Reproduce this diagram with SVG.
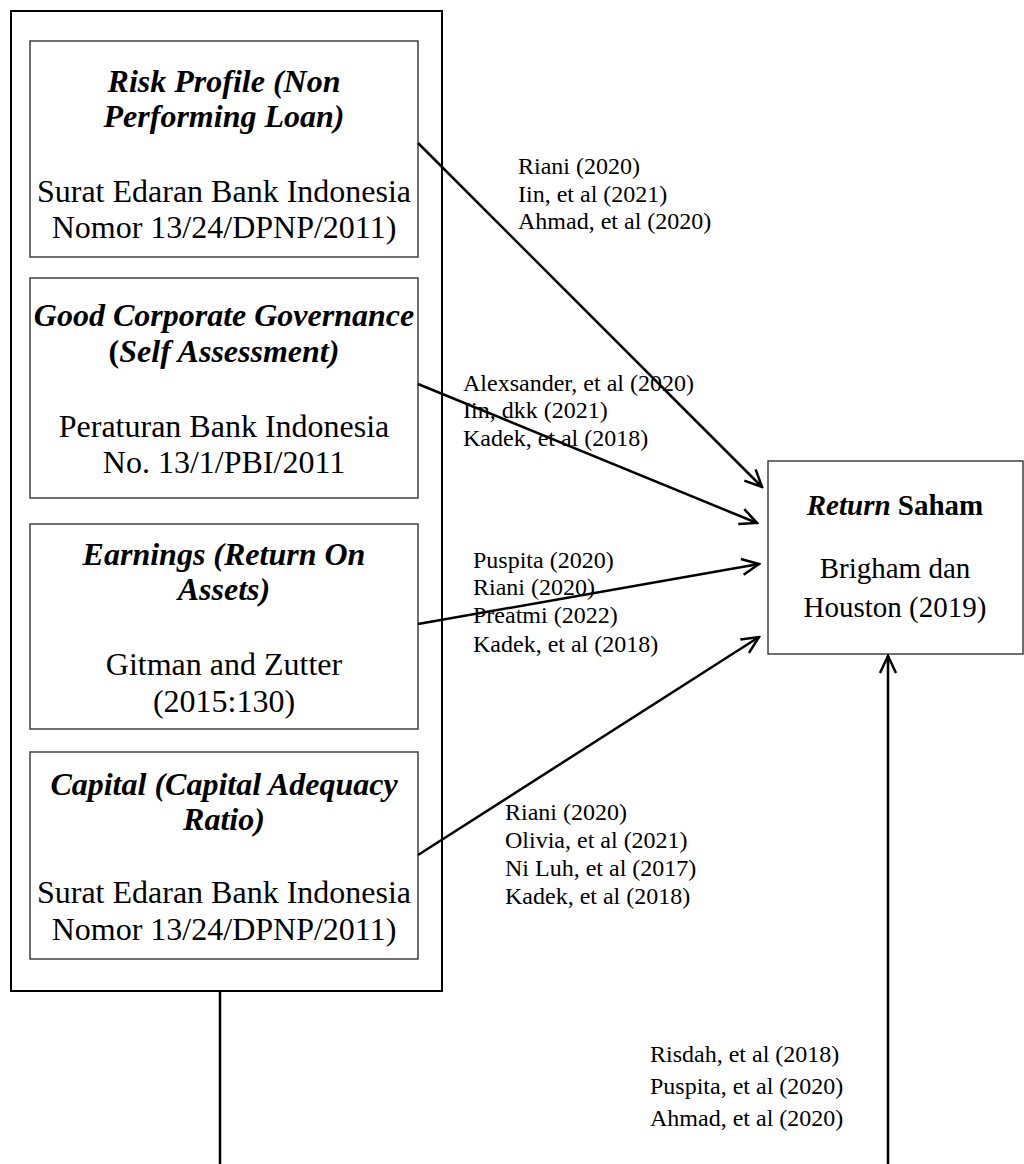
<svg xmlns="http://www.w3.org/2000/svg" width="1024" height="1164" viewBox="0 0 1024 1164">
<style>
.bx{fill:#fff;stroke:#333;stroke-width:1.4}
.outer{fill:none;stroke:#000;stroke-width:2}
.t{font-family:"Liberation Serif","Times New Roman",serif;fill:#000;text-anchor:middle}
.h{font-size:32px;font-weight:bold;font-style:italic}
.b{font-size:32px}
.r{font-size:29px}
.c{font-family:"Liberation Serif","Times New Roman",serif;font-size:24px;fill:#000}
.ln{stroke:#000;stroke-width:2.5;fill:none}
</style>
<defs>
<marker id="ah" markerUnits="userSpaceOnUse" markerWidth="22" markerHeight="22" viewBox="0 0 22 22" refX="20" refY="11" orient="auto">
<path d="M3,3 L20,11 L3,19" fill="none" stroke="#000" stroke-width="2.5"/>
</marker>
</defs>
<rect id="outer-box" x="11" y="11" width="431" height="980" class="outer"/>
<g id="risk-profile">
<rect x="30" y="41" width="388" height="216" class="bx"/>
<text class="t h" x="224" y="92">Risk Profile (Non</text>
<text class="t h" x="224" y="127">Performing Loan)</text>
<text class="t b" x="224" y="202">Surat Edaran Bank Indonesia</text>
<text class="t b" x="224" y="238">Nomor 13/24/DPNP/2011)</text>
</g>
<g id="gcg">
<rect x="30" y="278" width="388" height="220" class="bx"/>
<text class="t h" x="224" y="326">Good Corporate Governance</text>
<text class="t h" x="224" y="362"><tspan font-style="normal">(</tspan>Self Assessment)</text>
<text class="t b" x="224" y="437">Peraturan Bank Indonesia</text>
<text class="t b" x="224" y="473">No. 13/1/PBI/2011</text>
</g>
<g id="earnings">
<rect x="30" y="524" width="388" height="205" class="bx"/>
<text class="t h" x="224" y="565">Earnings (Return On</text>
<text class="t h" x="224" y="600">Assets)</text>
<text class="t b" x="224" y="675">Gitman and Zutter</text>
<text class="t b" x="224" y="712">(2015:130)</text>
</g>
<g id="capital">
<rect x="30" y="752" width="388" height="207" class="bx"/>
<text class="t h" x="224" y="795">Capital (Capital Adequacy</text>
<text class="t h" x="224" y="830">Ratio)</text>
<text class="t b" x="224" y="903">Surat Edaran Bank Indonesia</text>
<text class="t b" x="224" y="940">Nomor 13/24/DPNP/2011)</text>
</g>
<g id="return-saham">
<rect x="768" y="461" width="255" height="193" class="bx"/>
<text class="t r" x="895" y="515" font-weight="bold"><tspan font-style="italic">Return</tspan> Saham</text>
<text class="t r" x="895" y="578">Brigham dan</text>
<text class="t r" x="895" y="617">Houston (2019)</text>
</g>
<g id="connectors">
<line class="ln" x1="418" y1="143" x2="762" y2="487" marker-end="url(#ah)"/>
<line class="ln" x1="418" y1="384" x2="757" y2="523" marker-end="url(#ah)"/>
<line class="ln" x1="418" y1="624" x2="759" y2="564" marker-end="url(#ah)"/>
<line class="ln" x1="418" y1="855" x2="759" y2="637" marker-end="url(#ah)"/>
<line class="ln" x1="888" y1="1164" x2="888" y2="656" marker-end="url(#ah)"/>
<line class="ln" x1="220" y1="991" x2="220" y2="1164"/>
</g>
<g id="labels">
<text class="c" x="518" y="174">Riani (2020)</text>
<text class="c" x="518" y="202">Iin, et al (2021)</text>
<text class="c" x="518" y="229">Ahmad, et al (2020)</text>
<text class="c" x="463" y="391">Alexsander, et al (2020)</text>
<text class="c" x="463" y="418">Iin, dkk (2021)</text>
<text class="c" x="463" y="446">Kadek, et al (2018)</text>
<text class="c" x="473" y="568">Puspita (2020)</text>
<text class="c" x="473" y="595">Riani (2020)</text>
<text class="c" x="473" y="623">Preatmi (2022)</text>
<text class="c" x="473" y="652">Kadek, et al (2018)</text>
<text class="c" x="505" y="820">Riani (2020)</text>
<text class="c" x="505" y="848">Olivia, et al (2021)</text>
<text class="c" x="505" y="876">Ni Luh, et al (2017)</text>
<text class="c" x="505" y="904">Kadek, et al (2018)</text>
<text class="c" x="650" y="1062">Risdah, et al (2018)</text>
<text class="c" x="650" y="1094">Puspita, et al (2020)</text>
<text class="c" x="650" y="1126">Ahmad, et al (2020)</text>
</g>
</svg>
